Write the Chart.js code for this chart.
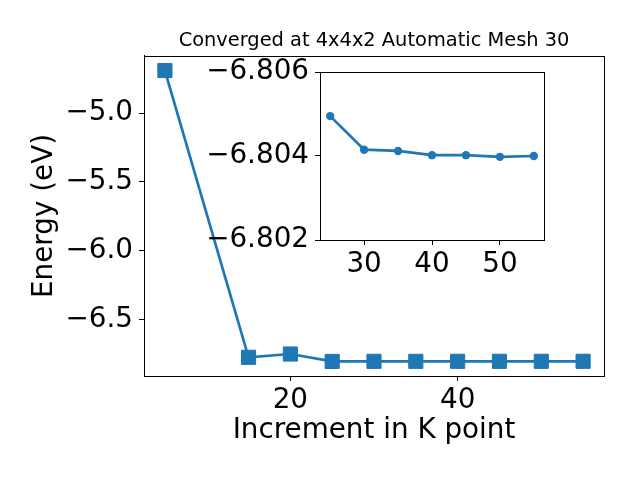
<!DOCTYPE html>
<html lang="en">
<head>
    <meta charset="UTF-8">
    <title>K point convergence</title>
    <script src="https://cdn.jsdelivr.net/npm/chart.js"></script>
    <style>
        body { margin: 0; background: #fff; }
        #wrap { position: relative; width: 640px; height: 480px; }
        #wrap canvas { position: absolute; left: 0; top: 0; }
        #insetChart { pointer-events: none; }
    </style>
</head>
<body>
    <div id="wrap">
        <canvas id="mainChart" width="640" height="480"></canvas>
        <canvas id="insetChart" width="640" height="480"></canvas>
    </div>

    <script>
        // data
        const kpoints = [5, 15, 20, 25, 30, 35, 40, 45, 50, 55];
        const energy = [-4.69, -6.775, -6.751, -6.80495, -6.80415, -6.80412, -6.80402, -6.80402, -6.80398, -6.80400];

        // the inset zooms in on the converged part (k >= 25)
        const insetK = kpoints.slice(3);
        const insetEnergy = energy.slice(3);

        const mainXTicks = [20, 40];
        const mainYTicks = [-6.5, -6.0, -5.5, -5.0];
        const insetXTicks = [30, 40, 50];
        const insetYTicks = [-6.806, -6.804, -6.802];

        const blue = '#1f77b4';
        const font = 'DejaVu Sans';
        const big = 27.8;   // 20pt at 100 dpi
        const small = 19.4; // 14pt

        function minus(v, digits) {
            return (v < 0 ? '\u2212' : '') + Math.abs(v).toFixed(digits);
        }

        // black frame round the plot area, like matplotlib spines
        const frame = {
            id: 'frame',
            beforeDatasetsDraw(chart, args, opts) {
                const a = chart.chartArea;
                const ctx = chart.ctx;
                if (opts.fill) {
                    ctx.save();
                    ctx.fillStyle = '#fff';
                    ctx.fillRect(a.left, a.top, a.right - a.left, a.bottom - a.top);
                    ctx.restore();
                }
            },
            afterDraw(chart) {
                const a = chart.chartArea;
                const ctx = chart.ctx;
                ctx.save();
                ctx.strokeStyle = '#000';
                ctx.lineWidth = 1;
                ctx.strokeRect(Math.round(a.left) + 0.5, Math.round(a.top) + 0.5,
                    Math.round(a.right - a.left), Math.round(a.bottom - a.top));
                ctx.restore();
            }
        };

        function axis(extra) {
            return Object.assign({
                type: 'linear',
                grid: { drawOnChartArea: false, drawTicks: true, tickLength: 5, color: '#000', tickColor: '#000' },
                border: { color: '#000' }
            }, extra);
        }

        new Chart(document.getElementById('mainChart'), {
            type: 'line',
            data: {
                datasets: [{
                    data: kpoints.map((k, i) => ({ x: k, y: energy[i] })),
                    borderColor: blue,
                    backgroundColor: blue,
                    borderWidth: 2.7,
                    pointStyle: 'rect',
                    pointRadius: 10,
                    pointBorderWidth: 1,
                    pointBorderColor: blue,
                    fill: false,
                    tension: 0
                }]
            },
            options: {
                responsive: false,
                animation: false,
                events: [],
                layout: { padding: { left: 0, right: 36, top: 0, bottom: 0 } },
                plugins: {
                    legend: { display: false },
                    tooltip: { enabled: false },
                    title: {
                        display: true,
                        fullSize: false,
                        text: 'Converged at 4x4x2 Automatic Mesh 30',
                        color: '#000',
                        font: { family: font, size: small, weight: 'normal' },
                        padding: { top: 29.4, bottom: 3.3 }
                    }
                },
                scales: {
                    x: axis({
                        min: 2.5,
                        max: 57.5,
                        afterBuildTicks: s => { s.ticks = mainXTicks.map(v => ({ value: v })); },
                        afterFit: s => { s.height = 104; },
                        ticks: {
                            color: '#000', padding: 3, maxRotation: 0,
                            font: { family: font, size: big },
                            callback: v => String(v)
                        },
                        title: {
                            display: true,
                            text: 'Increment in K point',
                            color: '#000',
                            font: { family: font, size: big },
                            padding: { top: 0, bottom: 33 }
                        }
                    }),
                    y: axis({
                        min: -6.9108,
                        max: -4.5842,
                        afterBuildTicks: s => { s.ticks = mainYTicks.map(v => ({ value: v })); },
                        afterFit: s => { s.width = 144; },
                        ticks: {
                            color: '#000', padding: 6,
                            font: { family: font, size: big },
                            callback: v => minus(v, 1)
                        },
                        title: {
                            display: true,
                            text: 'Energy (eV)',
                            color: '#000',
                            font: { family: font, size: big },
                            padding: { top: 28, bottom: 0 }
                        }
                    })
                }
            },
            plugins: [frame]
        });

        new Chart(document.getElementById('insetChart'), {
            type: 'line',
            data: {
                datasets: [{
                    data: insetK.map((k, i) => ({ x: k, y: insetEnergy[i] })),
                    borderColor: blue,
                    backgroundColor: blue,
                    borderWidth: 2.7,
                    pointStyle: 'circle',
                    pointRadius: 4.2,
                    pointBorderWidth: 0,
                    fill: false,
                    tension: 0
                }]
            },
            options: {
                responsive: false,
                animation: false,
                events: [],
                layout: { padding: { left: 0, right: 96, top: 72, bottom: 200 } },
                plugins: {
                    legend: { display: false },
                    tooltip: { enabled: false },
                    title: { display: false },
                    frame: { fill: true }
                },
                scales: {
                    x: axis({
                        min: 23.5,
                        max: 56.5,
                        afterBuildTicks: s => { s.ticks = insetXTicks.map(v => ({ value: v })); },
                        afterFit: s => { s.height = 40; },
                        ticks: {
                            color: '#000', padding: 3, maxRotation: 0,
                            font: { family: font, size: big },
                            callback: v => String(v)
                        }
                    }),
                    y: axis({
                        min: -6.806,
                        max: -6.802,
                        reverse: true,
                        afterBuildTicks: s => { s.ticks = insetYTicks.map(v => ({ value: v })); },
                        afterFit: s => { s.width = 320; },
                        ticks: {
                            color: '#000', padding: 6,
                            font: { family: font, size: big },
                            callback: v => minus(v, 3)
                        }
                    })
                }
            },
            plugins: [frame]
        });
    </script>
</body>
</html>
